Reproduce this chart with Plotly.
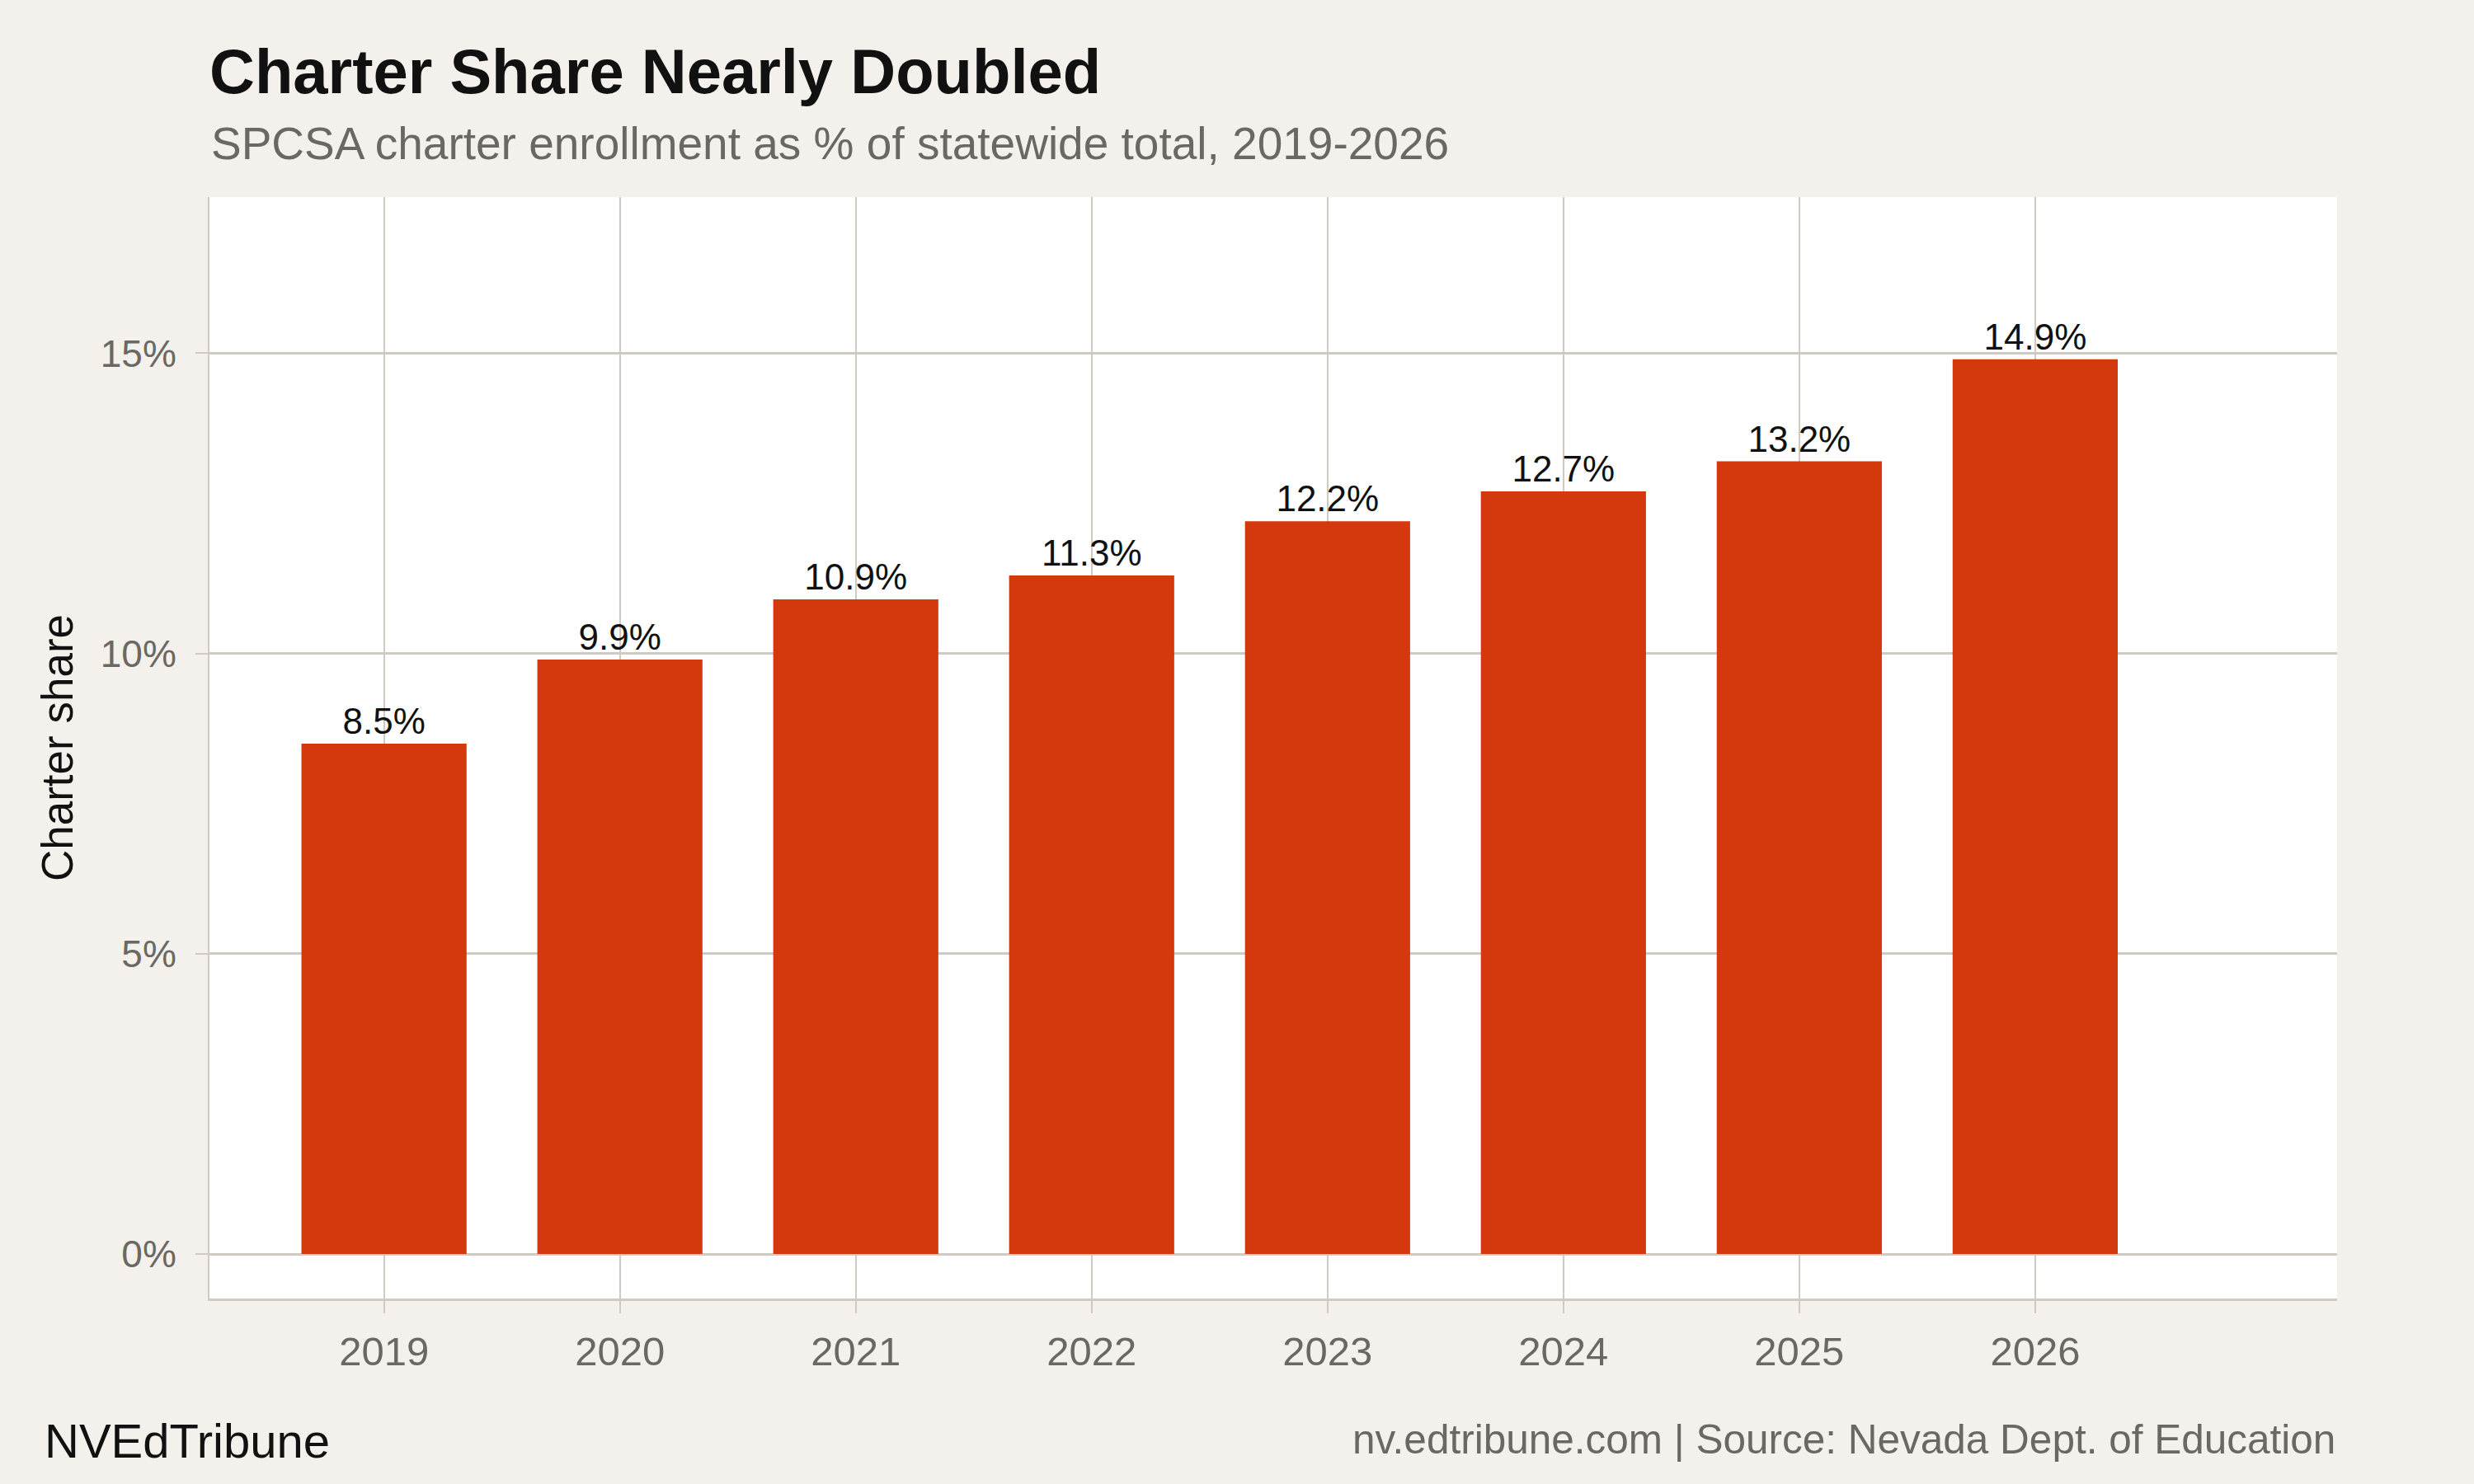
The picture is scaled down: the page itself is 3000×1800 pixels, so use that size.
import plotly.graph_objects as go

years = [2019, 2020, 2021, 2022, 2023, 2024, 2025, 2026]
charter_share = [8.5, 9.9, 10.9, 11.3, 12.2, 12.7, 13.2, 14.9]
y_ticks = [0, 5, 10, 15]

title = "<b>Charter Share Nearly Doubled</b>"
subtitle = "SPCSA charter enrollment as % of statewide total, 2019-2026"
source = "nv.edtribune.com | Source: Nevada Dept. of Education"
brand = "NVEdTribune"

bar_color = "#d4380d"
paper_bg = "#f4f1ec"
grid_color = "#cfcac2"
gray_text = "#6b6863"
font = "Liberation Sans, Arial, Helvetica, sans-serif"

fig = go.Figure()
fig.add_trace(go.Bar(
    x=years, y=charter_share,
    width=0.7,
    marker=dict(color=bar_color, line=dict(width=0)),
    texttemplate="%{y:.1f}%",
    textposition="outside",
    textfont=dict(family=font, size=44, color="#111111"),
    cliponaxis=False,
    hoverinfo="skip",
))

fig.update_layout(
    width=3000, height=1800,
    paper_bgcolor=paper_bg, plot_bgcolor="white",
    margin=dict(l=254, r=166, t=239, b=225),
    showlegend=False,
    font=dict(family=font, color=gray_text),
    title=dict(
        text=title, font=dict(family=font, size=76, color="#111111"),
        x=0, xref="paper", xanchor="left",
        y=1 - 86 / 1800, yref="container", yanchor="middle",
    ),
)

fig.update_xaxes(
    range=[2018.26, 2027.28],
    tickvals=years, ticktext=[str(y) for y in years],
    tickfont=dict(family=font, size=49, color=gray_text),
    ticks="outside", ticklen=15, tickwidth=2, tickcolor=grid_color,
    ticklabelstandoff=4,
    showgrid=True, gridcolor=grid_color, gridwidth=2,
    showline=True, linecolor=grid_color, linewidth=3,
    zeroline=False, fixedrange=True,
)

fig.update_yaxes(
    range=[-0.74, 17.6],
    tickvals=y_ticks, ticktext=[f"{v}%" for v in y_ticks],
    tickfont=dict(family=font, size=46, color=gray_text),
    ticks="outside", ticklen=15, tickwidth=2, tickcolor=grid_color,
    ticklabelstandoff=14,
    showgrid=True, gridcolor=grid_color, gridwidth=3,
    showline=True, linecolor=grid_color, linewidth=2,
    zeroline=False, fixedrange=True,
    title=dict(text="Charter share", font=dict(family=font, size=53, color="#111111"), standoff=16),
)

fig.add_annotation(
    text=subtitle, xref="paper", yref="paper", x=0, y=(1575 - 174) / 1336,
    xanchor="left", yanchor="middle", showarrow=False,
    font=dict(family=font, size=55, color=gray_text),
)
fig.add_annotation(
    text=brand, xref="paper", yref="paper", x=(52 - 254) / 2580, y=(1575 - 1747) / 1336,
    xanchor="left", yanchor="middle", showarrow=False,
    font=dict(family=font, size=58, color="#111111"),
)
fig.add_annotation(
    text=source, xref="paper", yref="paper", x=1, y=(1575 - 1745) / 1336,
    xanchor="right", yanchor="middle", showarrow=False,
    font=dict(family=font, size=49.5, color=gray_text),
)

# drop the default page margin so the figure sits at the window's corner
fig.write_html("out.html", config={"displayModeBar": False},
               post_script="document.body.style.margin='0';")
